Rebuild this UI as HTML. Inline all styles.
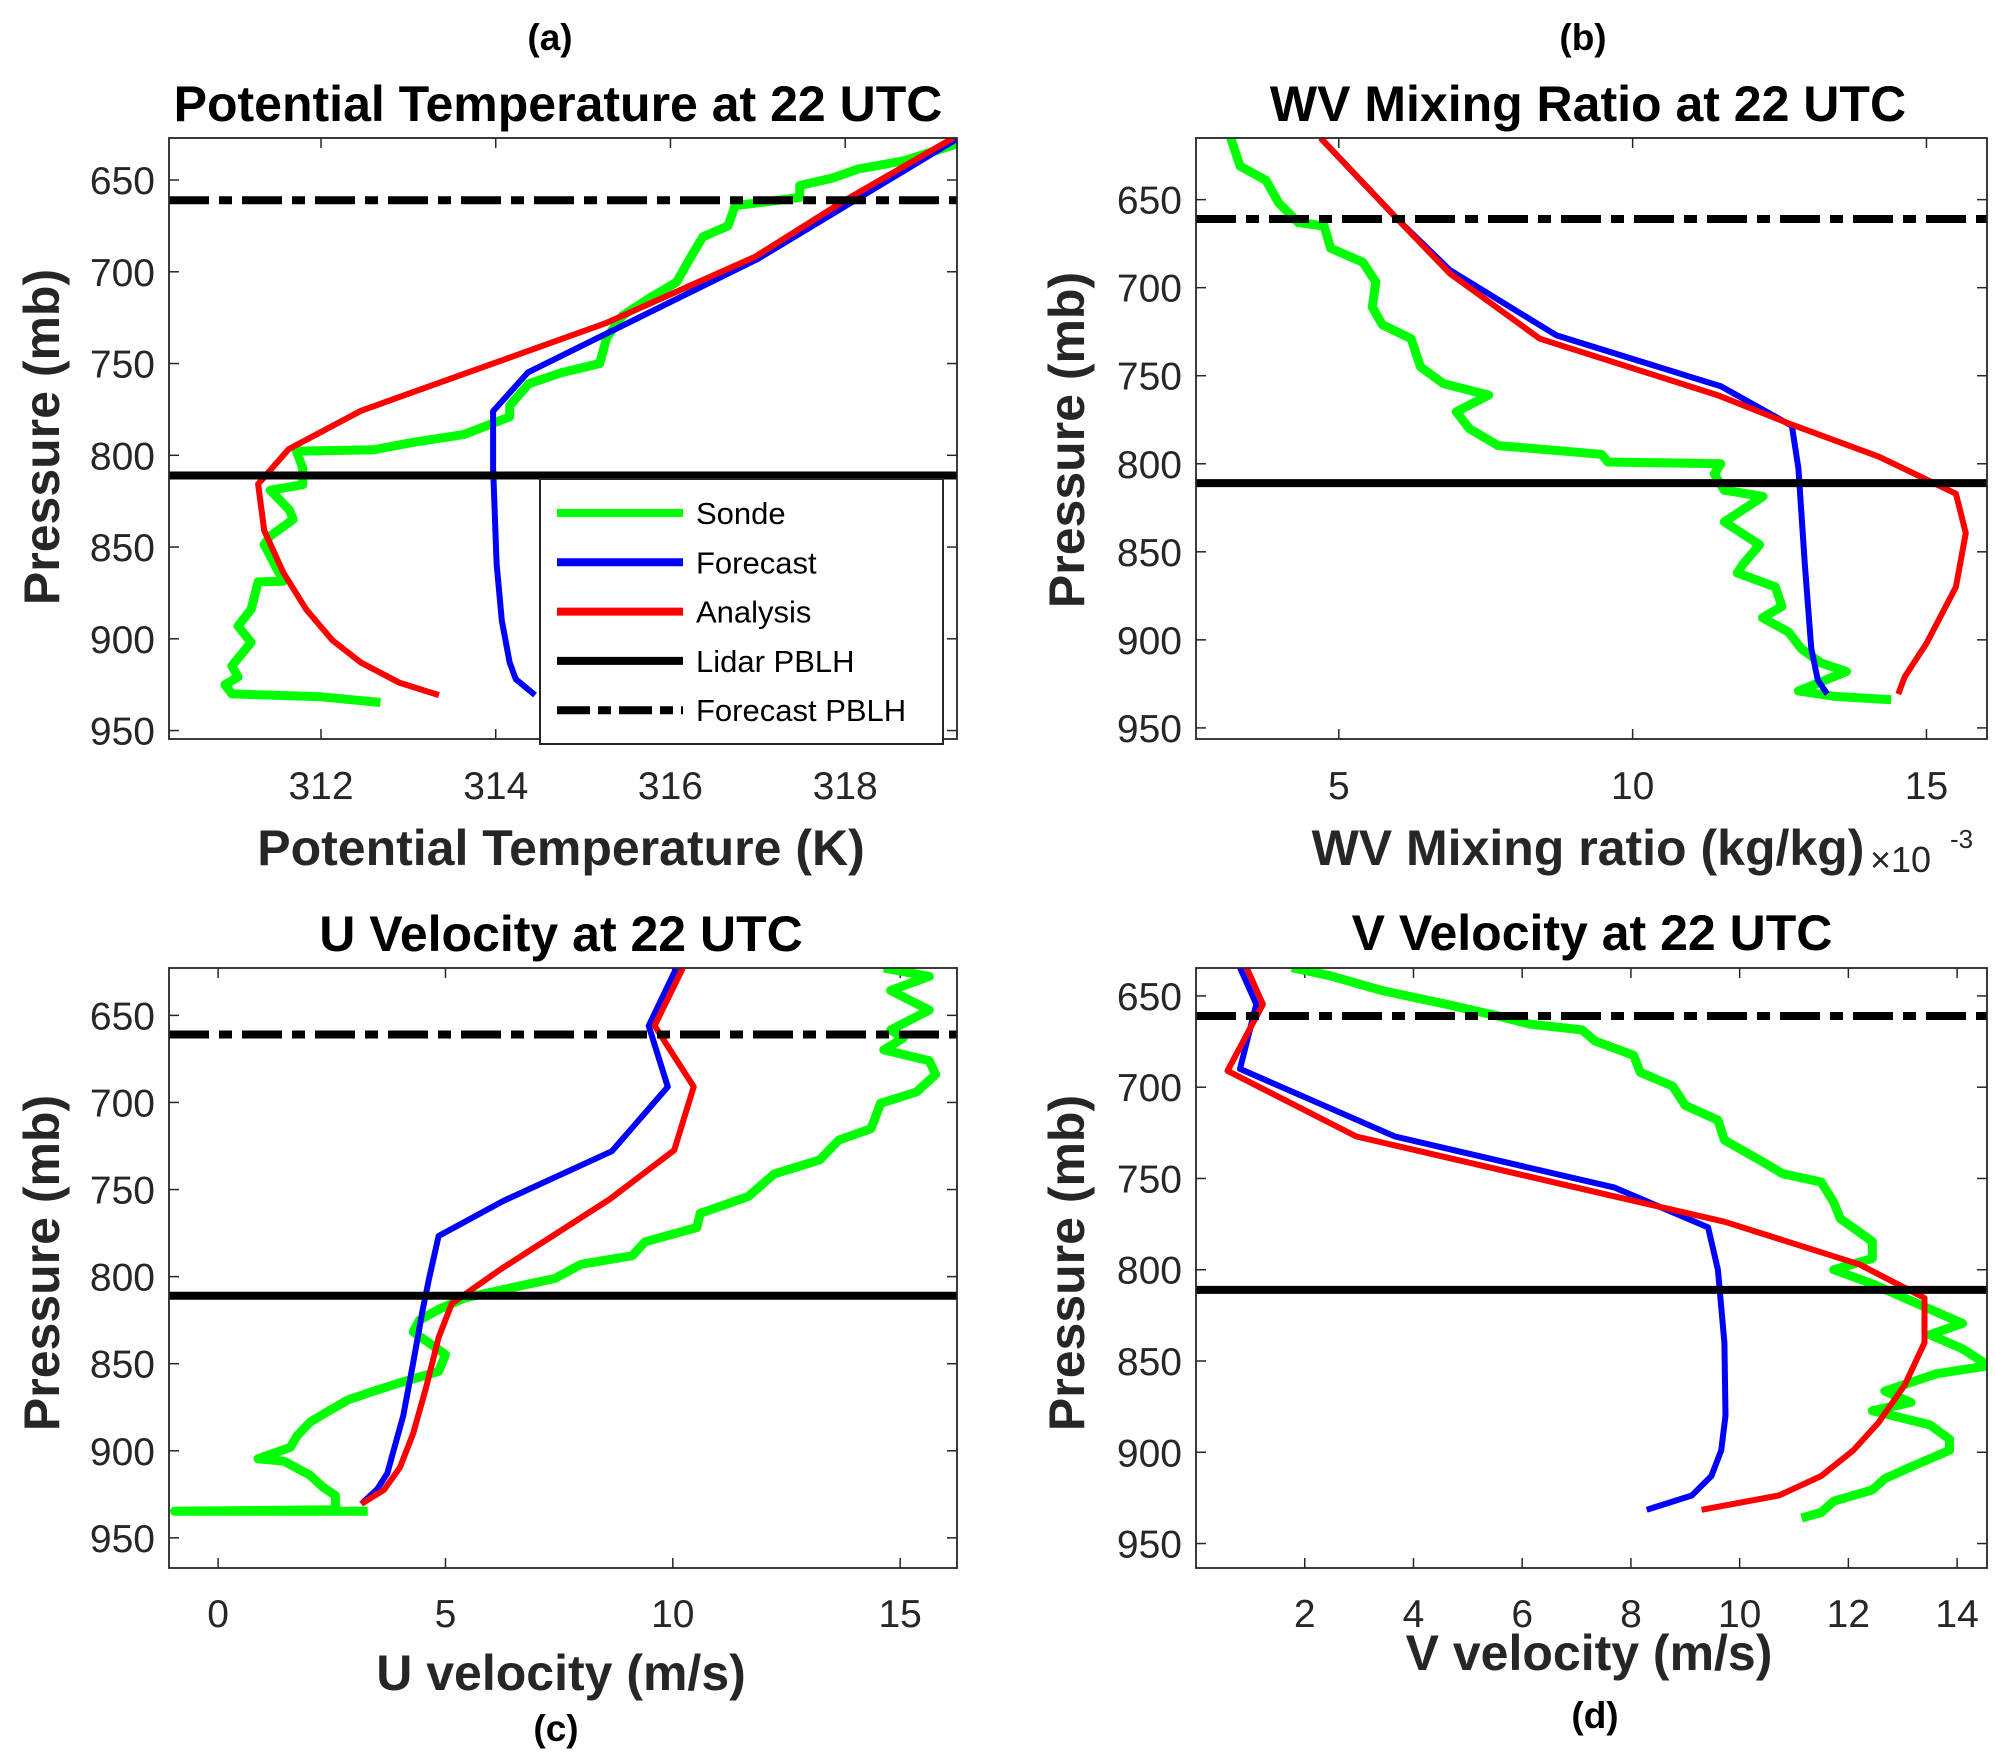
<!DOCTYPE html>
<html><head><meta charset="utf-8"><style>
html,body{margin:0;padding:0;background:#fff;}
svg{display:block;font-family:"Liberation Sans",Arial,sans-serif;}
</style></head><body>
<svg id="fig" xmlns="http://www.w3.org/2000/svg" width="1995" height="1761" viewBox="0 0 1995 1761">
<rect width="1995" height="1761" fill="#fff"/>
</svg>
<script>
// ---- Panel (a) Potential temperature ----
const aSondeX=[319.3,318.67,318.15,317.85,317.48,317.48,316.74,316.66,316.37,316.22,316.07,315.74,315.45,315.27,315.19,314.75,314.38,314.16,314.16,313.64,313.05,312.6,311.72,311.79,311.79,311.42,311.64,311.68,311.42,311.35,311.57,311.28,311.2,311.05,311.2,310.98,311.05,310.9,310.98,312.0,312.68];
const aSondeP=[630,639.5,644,649,653,659.5,664,675,681,693,705.6,715,724,736,750,755,761,773,779,788.6,793,797,797.8,807,816,819,830,835,844,848.6,868.6,869,884,893,902,914.7,920.8,925,930,931.6,934.7];
const aFcstX=[319.3,317.0,314.37,313.97,313.97,314.01,314.07,314.16,314.23,314.45];
const aFcstP=[627,693,754.8,776,807,859,890,913,922,930.7];
const aAnaX=[319.24,318.0,316.97,315.27,312.46,311.63,311.28,311.35,311.57,311.83,312.13,312.46,312.9,313.35];
const aAnaP=[627,661,691.8,727.8,775.7,796.6,815.7,841,864,884,900.8,913,924,930.7];
const aXTicks=[312,314,316,318];
// ---- Panel (b) WV mixing ratio (x 1e-3) ----
const bSondeX=[3.16,3.32,3.76,3.98,4.31,4.75,4.86,5.41,5.63,5.57,5.74,6.23,6.39,6.78,7.55,7.0,7.22,7.71,9.47,9.58,11.5,11.39,11.56,12.22,11.56,12.16,11.88,11.78,12.43,12.54,12.21,12.65,12.87,13.2,13.64,12.82,13.42,14.4];
const bSondeP=[615,631,639,652,663,665,677.6,685.6,696.8,711,721,729,745,754.5,761,770.5,780,789.7,794.6,799,800,805.8,815,818.6,833,846,857,862,870,881,887.5,895.5,905,913,918,929,932,934];
const bFcstX=[4.69,6.01,6.89,8.7,11.5,12.71,12.82,12.93,13.04,13.15,13.31];
const bFcstP=[615,661.5,690,727,756,778.5,802.6,857,905,922.8,930.8];
const bAnaX=[4.69,6.01,6.89,8.42,11.44,12.65,14.19,15.5,15.67,15.5,15.0,14.63,14.52];
const bAnaP=[615,661.5,692,729,761,777,796,817,839.4,870,902,921,930.8];
const bXTicks=[5,10,15];
// ---- Panel (c) U velocity ----
const cSondeX=[14.64,15.64,14.79,15.64,14.79,15.07,14.64,15.64,15.78,15.36,14.57,14.36,13.65,13.23,12.23,11.66,10.6,10.53,9.39,9.11,7.98,7.41,6.56,5.42,4.85,4.43,4.29,5.0,4.85,3.99,3.43,2.87,2.44,2.02,1.73,1.59,0.88,1.45,2.02,2.3,2.58,2.58,-0.96,3.29];
const cSondeP=[622.8,627.6,635.7,647,658.4,663,669.8,676,684,694,700.5,715,721.6,733,741,754,763.7,771.8,780,788,792.9,801,805.8,812.3,818.8,825,831.7,844.7,854.4,861,865.7,870.6,877,883.6,891.6,898,904.6,906,914,920.8,925.7,933.8,934.7,934.7];
const cFcstX=[10.08,9.47,9.89,8.66,6.27,4.85,4.64,4.5,4.28,4.07,3.86,3.72,3.5,3.15];
const cFcstP=[622.8,656,691,728,756.6,776.7,801,819,851,880,899.8,913,922,930.5];
const cAnaX=[10.22,9.6,10.46,10.03,8.61,6.2,5.14,4.85,4.57,4.29,4.0,3.65,3.15];
const cAnaP=[622.8,656,691,727.4,755.6,796,815.5,835,864,890,909.5,922.4,930.5];
const cXTicks=[0,5,10,15];
// ---- Panel (d) V velocity ----
const dSondeX=[1.76,2.47,3.42,4.61,5.56,6.15,7.1,7.34,8.05,8.17,8.77,9.0,9.6,9.72,10.43,10.79,11.5,11.73,11.85,12.44,12.44,11.73,12.44,13.27,14.1,13.5,14.1,14.58,13.62,12.67,13.15,12.44,13.5,13.86,13.86,13.15,12.67,12.44,11.73,11.5,11.14];
const dSondeP=[634.5,639,647,654.6,661,665.5,668.6,674.7,682.5,691.8,699.5,710,718,729,741,747.4,752,763,772,784.5,793.8,800,807.7,818.6,829.4,835.6,843.3,852.6,857,866.5,872.7,877.3,885,892.8,899,908,914.5,920.6,926.8,933,936];
const dFcstX=[0.81,1.11,0.81,3.66,7.7,9.42,9.6,9.72,9.74,9.66,9.48,9.12,8.29];
const dFcstP=[634.5,654.6,690,727,755,776.8,800,840,880,899,913,923.7,931.5];
const dAnaX=[0.93,1.23,0.58,2.95,7.7,9.72,12.2,13.4,13.4,13.04,12.56,12.09,11.5,10.72,9.3];
const dAnaP=[634.5,654.6,691,727,759.8,773.7,797,815.5,840,863,883.5,899,913,923.7,931.5];
const dXTicks=[2,4,6,8,10,12,14];
// shared
const yTicks=[650,700,750,800,850,900,950];
const lidarPBLH=[811,811,811,811];
const fcstPBLH=[661,661,661,661];

const NS="http://www.w3.org/2000/svg";
const svg=document.getElementById('fig');
function mk(tag,attrs,parent){const e=document.createElementNS(NS,tag);for(const k in attrs)e.setAttribute(k,attrs[k]);(parent||svg).appendChild(e);return e;}
function txt(s,x,y,size,weight,anchor,parent,color){const t=mk('text',{x:x,y:y,'font-size':size,'font-weight':weight,'text-anchor':anchor,fill:color||'#262626'},parent);t.textContent=s;return t;}

const panels=[
 {id:'a',L:169,R:957,T:138,B:739,x0:310.26,x1:319.28,p0:627.1,p1:954.6,xt:aXTicks,
  s:[aSondeX,aSondeP],f:[aFcstX,aFcstP],an:[aAnaX,aAnaP],pi:0,
  title:'Potential Temperature at 22 UTC',tx:558,ty:121,xl:'Potential Temperature (K)',xlx:561,xly:865,lab:'(a)',lx:550,ly:50,ylx:41,yly:437,xty:799},
 {id:'b',L:1196,R:1987,T:138,B:739,x0:2.57,x1:16.03,p0:615,p1:956.3,xt:bXTicks,
  s:[bSondeX,bSondeP],f:[bFcstX,bFcstP],an:[bAnaX,bAnaP],pi:1,
  title:'WV Mixing Ratio at 22 UTC',tx:1588,ty:121,xl:'WV Mixing ratio (kg/kg)',xlx:1588,xly:865,lab:'(b)',lx:1583,ly:50,ylx:1066,yly:440,xty:799},
 {id:'c',L:169,R:957,T:968,B:1568,x0:-1.08,x1:16.25,p0:622.8,p1:967.3,xt:cXTicks,
  s:[cSondeX,cSondeP],f:[cFcstX,cFcstP],an:[cAnaX,cAnaP],pi:2,
  title:'U Velocity at 22 UTC',tx:561,ty:951,xl:'U velocity (m/s)',xlx:561,xly:1690,lab:'(c)',lx:556,ly:1741,ylx:41,yly:1263,xty:1627},
 {id:'d',L:1196,R:1987,T:968,B:1568,x0:0,x1:14.55,p0:634.7,p1:963.4,xt:dXTicks,
  s:[dSondeX,dSondeP],f:[dFcstX,dFcstP],an:[dAnaX,dAnaP],pi:3,
  title:'V Velocity at 22 UTC',tx:1592,ty:950,xl:'V velocity (m/s)',xlx:1589,xly:1670,lab:'(d)',lx:1595,ly:1728,ylx:1066,yly:1263,xty:1627}
];

panels.forEach(P=>{
 const g=mk('g',{});
 
 
 const X=v=>P.L+(v-P.x0)/(P.x1-P.x0)*(P.R-P.L);
 const Y=p=>P.T+(p-P.p0)/(P.p1-P.p0)*(P.B-P.T);
 const cp=mk('clipPath',{id:'clip'+P.id},g);
 mk('rect',{x:P.L,y:P.T,width:P.R-P.L,height:P.B-P.T},cp);
 const tg=mk('g',{stroke:'#262626','stroke-width':1.5},g);
 
 
 P.xt.forEach(v=>{const x=X(v);
  mk('line',{x1:x,y1:P.B,x2:x,y2:P.B-10},tg);mk('line',{x1:x,y1:P.T,x2:x,y2:P.T+10},tg);
  const t=txt(String(v),x,P.xty,39,'normal','middle',g);
  
  
 });
 yTicks.forEach(v=>{if(v<P.p0||v>P.p1)return;const y=Y(v);
  mk('line',{x1:P.L,y1:y,x2:P.L+10,y2:y},tg);mk('line',{x1:P.R,y1:y,x2:P.R-10,y2:y},tg);
  const t=txt(String(v),P.L-14,y+14,39,'normal','end',g);
  
  
 });
 const dg=mk('g',{'clip-path':'url(#clip'+P.id+')',fill:'none','stroke-linejoin':'round'},g);
 function line(xs,ps,col,w,name){
  const d=xs.map((v,i)=>(i?'L':'M')+X(v).toFixed(1)+','+Y(ps[i]).toFixed(1)).join('');
  const e=mk('path',{d:d,stroke:col,'stroke-width':w},dg);
  
  
 }
 line(P.s[0],P.s[1],'#00ff00',9,'sonde-line');
 line(P.f[0],P.f[1],'#0000ff',6,'forecast-line');
 line(P.an[0],P.an[1],'#ff0000',6,'analysis-line');
 const ly=Y(lidarPBLH[P.pi]);
 const l1=mk('line',{x1:P.L,y1:ly,x2:P.R,y2:ly,stroke:'#000','stroke-width':8},dg);
 
 
 const fy=Y(fcstPBLH[P.pi]);
 const l2=mk('line',{x1:P.L,y1:fy,x2:P.R,y2:fy,stroke:'#000','stroke-width':8,'stroke-dasharray':'40 10 13 10'},dg);
 
 
 const box=mk('rect',{x:P.L,y:P.T,width:P.R-P.L,height:P.B-P.T,fill:'none',stroke:'#262626','stroke-width':1.8},g);
 
 
 const tt=txt(P.title,P.tx,P.ty,50,'bold','middle',g,'#000');
 
 
 const xl=txt(P.xl,P.xlx,P.xly,50,'bold','middle',g);
 
 
 const lb=txt(P.lab,P.lx,P.ly,37,'bold','middle',g,'#000');
 
 
 const yl=txt('Pressure (mb)',0,0,50,'bold','middle',g);
 yl.setAttribute('transform','translate('+(P.ylx+18)+','+P.yly+') rotate(-90)');
 
 
});
const ex=txt('\u00d710',1870,872,36,'normal','start',svg);


const ex2=txt('-3',1950,848,26,'normal','start',svg);



const lg=mk('g',{});


mk('rect',{x:540,y:479,width:403,height:265,fill:'#fff',stroke:'#262626','stroke-width':2},lg);
const legNames=['Sonde','Forecast','Analysis','Lidar PBLH','Forecast PBLH'];
const legCols=['#00ff00','#0000ff','#ff0000','#000','#000'];
legNames.forEach((n,i)=>{const y=513+i*49.3;
 const ln=mk('line',{x1:557,y1:y,x2:683,y2:y,stroke:legCols[i],'stroke-width':8},lg);
 if(i==4)ln.setAttribute('stroke-dasharray','33 8 13 8');
 
 
 const t=txt(n,696,y+11,31,'normal','start',lg,'#000');
 
 
});
</script>
</body></html>
